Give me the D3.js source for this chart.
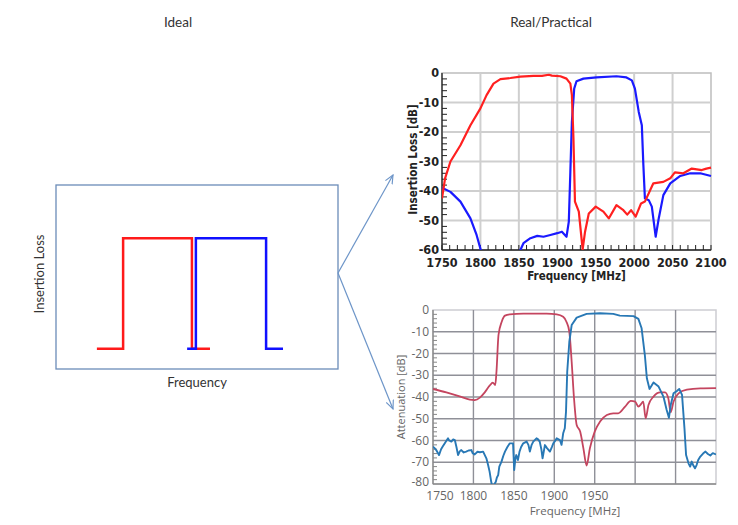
<!DOCTYPE html>
<html><head><meta charset="utf-8">
<script src="https://cdn.jsdelivr.net/npm/d3@7"></script>
<style>
html,body{margin:0;padding:0;background:#fff;}
svg{display:block;}
</style></head>
<body>
<svg id="c" width="738" height="525"></svg>
<script>
// ---------- DATA ----------
const titles = ["Ideal", "Real/Practical"];
// Ideal sketch (arbitrary units)
const idealRed  = [[14.5,11],[23.8,11],[23.8,71],[48.2,71],[48.2,11],[54.6,11]];
const idealBlue = [[46.5,11],[49.6,11],[49.6,71],[74.5,71],[74.5,11],[80.5,11]];

// Top measured chart (Insertion Loss)
const topXTicks = [1750,1800,1850,1900,1950,2000,2050,2100];
const topYTicks = [0,-10,-20,-30,-40,-50,-60];
const topRed = [[1750,-42.5],[1754,-35.7],[1761,-30],[1774,-24.5],[1787,-17.7],[1800,-12],[1808,-7.5],[1817,-3.6],[1826,-2.1],[1839,-1.7],[1852,-1.2],[1869,-1.0],[1880,-1.0],[1889,-0.6],[1893,-0.9],[1904,-1.1],[1912,-1.9],[1917,-3.6],[1919,-7.5],[1921,-22],[1923,-43.6],[1928,-47],[1933,-59.8],[1936,-54],[1941,-47.6],[1950,-45.3],[1960,-47],[1967,-49.3],[1977,-44.8],[1986,-46.5],[1991,-48],[1996,-46.5],[2002,-48.7],[2009,-44.2],[2014,-43.6],[2025,-37.4],[2038,-36.9],[2047,-35.7],[2053,-33.7],[2064,-34],[2075,-32.4],[2088,-32.9],[2094,-32.4],[2100,-32.1]];
const topBlue = [[1750,-38.9],[1761,-40.3],[1774,-43.6],[1787,-49.3],[1795,-54.9],[1801,-60.5],[1806,-66],[1826,-70],[1846,-66],[1852,-60],[1856,-57.7],[1865,-56],[1874,-55.2],[1882,-55.5],[1891,-54.9],[1900,-54.3],[1906,-53.8],[1912,-55.5],[1915,-50.4],[1917,-33.5],[1919,-16.6],[1922,-5.3],[1925,-2.8],[1934,-1.9],[1951,-1.5],[1977,-1.1],[1990,-1.5],[1997,-2.5],[2001,-5.3],[2006,-13.2],[2010,-17.7],[2012,-31.2],[2014,-42.5],[2019,-43.1],[2023,-45.3],[2028,-55.5],[2032,-49.3],[2038,-41.4],[2047,-37.4],[2060,-34.9],[2073,-34],[2086,-34],[2100,-34.9]];

// Bottom measured chart (Attenuation)
const botXTicks = [1750,1800,1850,1900,1950,2000,2050,2100];
const botXLabels = ["1750","1800","1850","1900","1950","","",""];
const botYTicks = [0,-10,-20,-30,-40,-50,-60,-70,-80];
const botRed = [[1750,-36.3],[1766.5,-37.9],[1783,-39.7],[1795.5,-41.2],[1801.6,-41.4],[1808,-40.3],[1814,-37.9],[1820,-34.8],[1824,-33.4],[1827,-34.5],[1828.5,-28.4],[1831,-11.5],[1835,-5.4],[1839,-2.6],[1845,-2.0],[1861.6,-1.7],[1890.5,-1.7],[1903,-2.0],[1911,-3.1],[1915,-5.4],[1918.6,-10],[1921.5,-23.8],[1924.4,-40.6],[1927.7,-52.9],[1932,-55.9],[1936,-63.6],[1940,-71.5],[1944,-63.6],[1950,-55.9],[1956.6,-51.3],[1965,-48.3],[1973,-47.5],[1979,-47.5],[1987.6,-44.4],[1994.6,-41.8],[2000,-42.1],[2004,-44.4],[2008,-42.9],[2010,-42.1],[2013,-49.8],[2016.5,-43.7],[2022.7,-39.8],[2031,-37.9],[2037,-37.9],[2041,-40.6],[2044,-47],[2047.5,-42.1],[2053.7,-38.3],[2064,-36.6],[2080.6,-36],[2100,-35.9]];
const botBlue = [[1750,-62.8],[1752,-63.5],[1754,-64.4],[1757.4,-66.7],[1760,-64],[1762,-62.8],[1765,-61],[1768.6,-59],[1770,-60],[1772.7,-60.5],[1775,-59.5],[1777,-59.8],[1779,-63],[1781,-66.7],[1783,-65],[1785,-64.4],[1788,-65.5],[1791,-65.1],[1794,-64.6],[1797.5,-64.4],[1799,-65.8],[1801.6,-66.4],[1805,-65.2],[1808,-65.4],[1812,-65.1],[1816,-68.2],[1818,-71],[1820,-74.3],[1822,-79],[1824,-82],[1826,-80],[1827.7,-79],[1829,-77],[1830.6,-75.9],[1832,-72],[1834.7,-69.7],[1837,-67],[1839,-65.1],[1842,-63],[1845,-61.3],[1849,-61.3],[1850.4,-73.6],[1852,-68],[1853,-66.7],[1855,-69],[1857,-65.1],[1859,-63],[1861.6,-61.3],[1865.7,-60.5],[1868,-62],[1869.8,-65.1],[1872,-62],[1874,-60.5],[1878,-59],[1880,-59.5],[1882,-60.5],[1884,-64],[1885.5,-68.2],[1888.4,-62.1],[1891,-63.5],[1894.6,-65.1],[1897,-63],[1898.8,-61.3],[1901,-60.2],[1903,-59],[1907,-59.8],[1909,-62],[1911,-56.7],[1913,-54.4],[1914.5,-46.7],[1916,-28.4],[1918.6,-14.6],[1921.5,-6.9],[1927.7,-3.5],[1940,-1.8],[1956.6,-1.5],[1973,-1.8],[1981,-2.6],[1998,-2.8],[2004,-4.1],[2008,-8.4],[2012,-20.7],[2014.5,-31.4],[2017.8,-36.3],[2022.7,-33.3],[2029,-35.2],[2035,-39.8],[2039,-46],[2041.8,-49.5],[2044,-43.7],[2047.5,-38.3],[2051.6,-37.2],[2054.5,-36.3],[2058,-39],[2061,-54.4],[2063,-66.7],[2066,-70.5],[2068,-72],[2070,-69.7],[2072,-71.5],[2074,-72.8],[2076,-71.3],[2078,-69],[2080.6,-67.4],[2084,-66],[2087,-65.1],[2090,-66.2],[2093,-66.9],[2096,-65.8],[2100,-66.4]];

// ---------- DRAW ----------
const svg = d3.select("#c");
const defs = svg.append("defs");

// titles
svg.append("text").attr("x",178).attr("y",27).attr("text-anchor","middle")
  .style("font-family","Lato, 'Open Sans', sans-serif").style("font-size","13.5px").attr("fill","#333").text(titles[0]);
svg.append("text").attr("x",551).attr("y",27).attr("text-anchor","middle")
  .style("font-family","Lato, 'Open Sans', sans-serif").style("font-size","13.5px").attr("fill","#333").text(titles[1]);

// ---- Ideal box ----
const ix = d3.scaleLinear().domain([0,100]).range([56,338]);
const iy = d3.scaleLinear().domain([0,100]).range([369,185]);
svg.append("rect").attr("x",56).attr("y",185).attr("width",282).attr("height",184)
  .attr("fill","none").attr("stroke","#6b8cb8").attr("stroke-width",1.3);
const iline = d3.line().x(d=>ix(d[0])).y(d=>iy(d[1]));
svg.append("path").datum(idealRed).attr("d",iline).attr("fill","none").attr("stroke","#ff1a1a").attr("stroke-width",2.5);
svg.append("path").datum(idealBlue).attr("d",iline).attr("fill","none").attr("stroke","#1010ff").attr("stroke-width",2.5);
svg.append("text").attr("transform","translate(44,274) rotate(-90)").attr("text-anchor","middle")
  .style("font-family","Lato, 'Open Sans', sans-serif").style("font-size","13px").attr("fill","#333").text("Insertion Loss");
svg.append("text").attr("x",197).attr("y",387).attr("text-anchor","middle")
  .style("font-family","Lato, 'Open Sans', sans-serif").style("font-size","13px").attr("fill","#333").text("Frequency");

// arrows
defs.append("marker").attr("id","ah").attr("viewBox","0 0 10 10").attr("refX",9).attr("refY",5)
  .attr("markerWidth",8).attr("markerHeight",8).attr("orient","auto")
  .append("path").attr("d","M0,1 L9,5 L0,9").attr("fill","none").attr("stroke","#6d95c8").attr("stroke-width",1.2);
svg.append("line").attr("x1",338).attr("y1",273).attr("x2",393).attr("y2",175)
  .attr("stroke","#6d95c8").attr("stroke-width",1.2).attr("marker-end","url(#ah)");
svg.append("line").attr("x1",338).attr("y1",273).attr("x2",393).attr("y2",409)
  .attr("stroke","#6d95c8").attr("stroke-width",1.2).attr("marker-end","url(#ah)");

// ---- Top chart ----
(function(){
  const L=442,R=711,T=73,B=250;
  const x = d3.scaleLinear().domain([1750,2100]).range([L,R]);
  const y = d3.scaleLinear().domain([-60,0]).range([B,T]);
  const g = svg.append("g");
  const font = "'Liberation Sans Narrow','DejaVu Sans Condensed','Arial Narrow',sans-serif";
  g.append("rect").attr("x",L).attr("y",T).attr("width",R-L).attr("height",B-T).attr("fill","#fff").attr("stroke","#bdbdbd").attr("stroke-width",1.5);
  g.selectAll(".vg").data(topXTicks.slice(1,-1)).join("line").attr("x1",d=>x(d)).attr("x2",d=>x(d)).attr("y1",T).attr("y2",B).attr("stroke","#cfcfcf").attr("stroke-width",2);
  g.selectAll(".hg").data(topYTicks.slice(1,-1)).join("line").attr("x1",L).attr("x2",R).attr("y1",d=>y(d)).attr("y2",d=>y(d)).attr("stroke","#cfcfcf").attr("stroke-width",2);
  const yMinor = d3.range(-60,0.1,2);
  g.selectAll(".ym").data(yMinor).join("line").attr("x1",L).attr("x2",d=>L+(d%10===0?0:5)).attr("y1",d=>y(d)).attr("y2",d=>y(d)).attr("stroke","#222").attr("stroke-width",1);
  const xMinor = d3.range(1750,2100.1,10);
  g.selectAll(".xm").data(xMinor).join("line").attr("x1",d=>x(d)).attr("x2",d=>x(d)).attr("y1",B).attr("y2",B-5).attr("stroke","#222").attr("stroke-width",1);
  g.append("line").attr("x1",L).attr("x2",L).attr("y1",T).attr("y2",B).attr("stroke","#222").attr("stroke-width",1.3);
  g.append("line").attr("x1",L).attr("x2",R).attr("y1",B).attr("y2",B).attr("stroke","#222").attr("stroke-width",1.3);
  defs.append("clipPath").attr("id","clipTop").append("rect").attr("x",L).attr("y",T-3).attr("width",R-L+2).attr("height",B-T+3);
  const line = d3.line().x(d=>x(d[0])).y(d=>y(d[1]));
  const cg = g.append("g").attr("clip-path","url(#clipTop)");
  cg.append("path").datum(topBlue).attr("d",line).attr("fill","none").attr("stroke","#1a1aff").attr("stroke-width",2.2).attr("stroke-linejoin","round");
  cg.append("path").datum(topRed).attr("d",line).attr("fill","none").attr("stroke","#ff2020").attr("stroke-width",2.2).attr("stroke-linejoin","round");
  g.selectAll(".xl").data(topXTicks).join("text").attr("x",d=>x(d)).attr("y",267).attr("text-anchor","middle")
    .style("font-family",font).style("font-weight","bold").style("font-size","12.5px").attr("fill","#222").text(d=>d);
  g.selectAll(".yl").data(topYTicks).join("text").attr("x",L-3).attr("y",d=>y(d)+4).attr("text-anchor","end")
    .style("font-family",font).style("font-weight","bold").style("font-size","12.5px").attr("fill","#222").text(d=>d);
  g.append("text").attr("x",(L+R)/2).attr("y",280).attr("text-anchor","middle")
    .style("font-family",font).style("font-weight","bold").style("font-size","11.5px").attr("fill","#222").text("Frequency [MHz]");
  g.append("text").attr("transform",`translate(417,${(T+B)/2-2}) rotate(-90)`).attr("text-anchor","middle")
    .style("font-family",font).style("font-weight","bold").style("font-size","11.5px").attr("fill","#222").text("Insertion Loss [dB]");
})();

// ---- Bottom chart ----
(function(){
  const L=433,R=716,T=310,B=484;
  const x = d3.scaleLinear().domain([1750,2100]).range([L,R]);
  const y = d3.scaleLinear().domain([-80,0]).range([B,T]);
  const g = svg.append("g");
  const font = "'Open Sans','Noto Sans',sans-serif";
  g.append("rect").attr("x",L).attr("y",T).attr("width",R-L).attr("height",B-T).attr("fill","#fff").attr("stroke","#cdcdd2").attr("stroke-width",1.5);
  g.selectAll(".vg").data(botXTicks.slice(1,-1)).join("line").attr("x1",d=>x(d)).attr("x2",d=>x(d)).attr("y1",T).attr("y2",B).attr("stroke","#8f9098").attr("stroke-width",1.4);
  g.selectAll(".hg").data(botYTicks.slice(1,-1)).join("line").attr("x1",L).attr("x2",R).attr("y1",d=>y(d)).attr("y2",d=>y(d)).attr("stroke","#8f9098").attr("stroke-width",1.4);
  const yMinor = d3.range(-80,0.1,2);
  g.selectAll(".ym").data(yMinor).join("line").attr("x1",L).attr("x2",d=>L+(d%10===0?0:4)).attr("y1",d=>y(d)).attr("y2",d=>y(d)).attr("stroke","#888").attr("stroke-width",1);
  g.append("line").attr("x1",L).attr("x2",L).attr("y1",T).attr("y2",B).attr("stroke","#888").attr("stroke-width",1.4);
  g.append("line").attr("x1",L).attr("x2",R).attr("y1",B).attr("y2",B).attr("stroke","#888").attr("stroke-width",1.4);
  defs.append("clipPath").attr("id","clipBot").append("rect").attr("x",L).attr("y",T-2).attr("width",R-L).attr("height",B-T+2);
  const line = d3.line().x(d=>x(d[0])).y(d=>y(d[1])).curve(d3.curveMonotoneX);
  const cg = g.append("g").attr("clip-path","url(#clipBot)");
  cg.append("path").datum(botRed).attr("d",line).attr("fill","none").attr("stroke","#c4455f").attr("stroke-width",1.8).attr("stroke-linejoin","round");
  cg.append("path").datum(botBlue).attr("d",d3.line().x(d=>x(d[0])).y(d=>y(d[1]))).attr("fill","none").attr("stroke","#2878b5").attr("stroke-width",1.9).attr("stroke-linejoin","round");
  g.selectAll(".xl").data(botXTicks.map((d,i)=>[d,botXLabels[i]])).join("text").attr("x",(d,i)=>x(d[0])+(i===0?7:0)).attr("y",500).attr("text-anchor","middle")
    .style("font-family",font).style("font-size","12px").attr("fill","#666").text(d=>d[1]);
  g.selectAll(".yl").data(botYTicks).join("text").attr("x",L-4).attr("y",d=>y(d)+(d===-80?2:4)).attr("text-anchor","end")
    .style("font-family",font).style("font-size","12px").attr("fill","#666").text(d=>d);
  g.append("text").attr("x",575).attr("y",515).attr("text-anchor","middle")
    .style("font-family",font).style("font-size","11.5px").attr("fill","#666").text("Frequency [MHz]");
  g.append("text").attr("transform",`translate(405,${(T+B)/2}) rotate(-90)`).attr("text-anchor","middle")
    .style("font-family",font).style("font-size","11px").attr("fill","#666").text("Attenuation [dB]");
})();
</script>
</body></html>
